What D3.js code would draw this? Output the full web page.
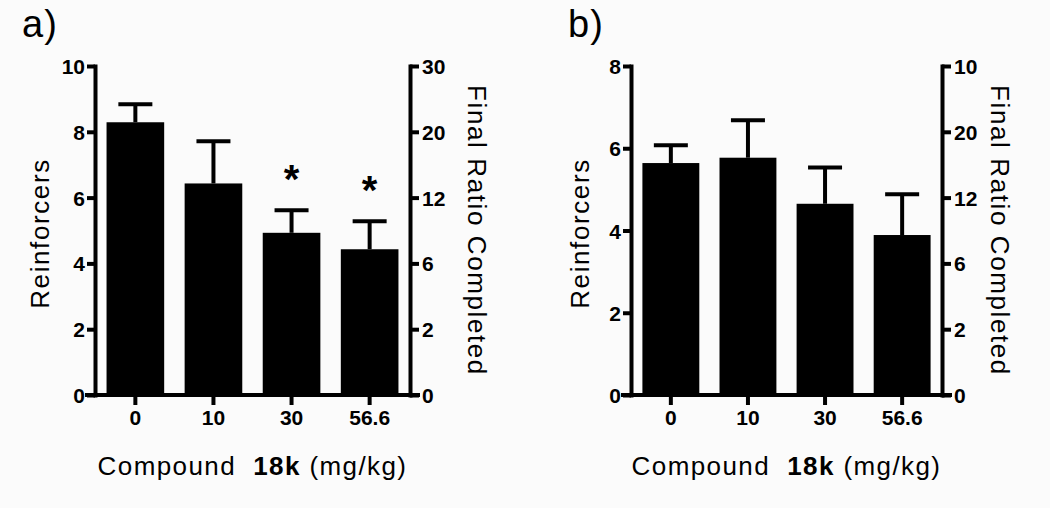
<!DOCTYPE html>
<html>
<head>
<meta charset="utf-8">
<script src="https://cdn.jsdelivr.net/npm/d3@7"></script>
<style>
  html, body { margin: 0; padding: 0; background: #fbfbfb; }
  svg { display: block; font-family: "Liberation Sans", Arial, sans-serif; }
</style>
</head>
<body>
<svg id="chart" width="1050" height="508"></svg>
<script>
// ---- data ----
const categories = ["0", "10", "30", "56.6"];

const reinforcersA = [8.29, 6.43, 4.93, 4.43];
const errorTopA    = [8.90, 7.77, 5.68, 5.34];
const significantA = [false, false, true, true];
const leftTicksA   = [0, 2, 4, 6, 8, 10];
const leftMaxA     = 10;
const rightLabelsA = ["0", "2", "6", "12", "20", "30"];

const reinforcersB = [5.64, 5.77, 4.65, 3.89];
const errorTopB    = [6.12, 6.73, 5.58, 4.93];
const significantB = [false, false, false, false];
const leftTicksB   = [0, 2, 4, 6, 8];
const leftMaxB     = 8;
const rightLabelsB = ["0", "2", "6", "12", "20", "10"];

const panelLabels = ["a)", "b)"];
const yTitle = "Reinforcers";
const y2Title = "Final Ratio Completed";

// ---- layout ----
const svg = d3.select("#chart");
const panels = [
  { label: panelLabels[0], labelX: 22, x0: 96, x1: 409, yLabX: 40, y2LabX: 477,
    values: reinforcersA, errs: errorTopA, sig: significantA,
    ticks: leftTicksA, max: leftMaxA, rLabels: rightLabelsA, capHalf: 17 },
  { label: panelLabels[1], labelX: 568, x0: 632, x1: 941, yLabX: 580, y2LabX: 1000,
    values: reinforcersB, errs: errorTopB, sig: significantB,
    ticks: leftTicksB, max: leftMaxB, rLabels: rightLabelsB, capHalf: 17 }
];
const yTop = 66, yBot = 395;

panels.forEach(p => {
  const g = svg.append("g");
  const x = d3.scaleBand().domain(categories).range([p.x0, p.x1])
    .paddingInner(0.262).paddingOuter(0.135);
  const y = d3.scaleLinear().domain([0, p.max]).range([yBot, yTop]);
  const yR = d3.scaleLinear().domain([0, p.rLabels.length - 1]).range([yBot, yTop]);
  const cx = i => x(categories[i]) + x.bandwidth() / 2;

  // bars
  g.selectAll("rect.bar").data(p.values).enter().append("rect")
    .attr("class", "bar")
    .attr("x", (d, i) => x(categories[i]))
    .attr("width", x.bandwidth())
    .attr("y", d => y(d))
    .attr("height", d => yBot - y(d))
    .attr("fill", "#000");

  // error bars
  const eb = g.selectAll("g.err").data(p.errs).enter().append("g").attr("class", "err");
  eb.append("line")
    .attr("x1", (d, i) => cx(i)).attr("x2", (d, i) => cx(i))
    .attr("y1", (d, i) => y(p.values[i]))
    .attr("y2", d => y(d) + 2)
    .attr("stroke", "#000").attr("stroke-width", 4);
  eb.append("line")
    .attr("x1", (d, i) => cx(i) - p.capHalf)
    .attr("x2", (d, i) => cx(i) + p.capHalf)
    .attr("y1", d => y(d) + 2)
    .attr("y2", d => y(d) + 2)
    .attr("stroke", "#000").attr("stroke-width", 4);

  // significance stars
  const starIdx = d3.range(p.errs.length).filter(i => p.sig[i]);
  g.selectAll("text.star").data(starIdx).enter().append("text").attr("class", "star")
    .attr("x", i => cx(i))
    .attr("y", i => y(p.errs[i]) - 15)
    .attr("text-anchor", "middle")
    .attr("font-size", 40).attr("font-weight", "bold").attr("fill", "#000")
    .text("*");

  // left axis
  const axL = g.append("g").attr("transform", `translate(${p.x0 - 1},0)`)
    .call(d3.axisLeft(y).tickValues(p.ticks).tickSize(8).tickSizeOuter(0).tickPadding(2)
      .tickFormat(d3.format("d")));
  // right axis
  const axR = g.append("g").attr("transform", `translate(${p.x1 + 1},0)`)
    .call(d3.axisRight(yR).tickValues(d3.range(p.rLabels.length)).tickSize(9).tickSizeOuter(0)
      .tickPadding(3).tickFormat(i => p.rLabels[i]));
  // bottom axis
  const axB = g.append("g").attr("transform", `translate(0,${yBot})`)
    .call(d3.axisBottom(x).tickSize(10).tickSizeOuter(0).tickPadding(5));
  axB.select(".domain").attr("d", `M${p.x0 - 9},0H${p.x1 + 9}`);

  [axL, axR, axB].forEach(ax => {
    ax.select(".domain").attr("stroke", "#000").attr("stroke-width", 4)
      .attr("stroke-linecap", "square");
    ax.selectAll(".tick line").attr("stroke", "#000").attr("stroke-width", 4);
    ax.selectAll(".tick text").attr("fill", "#000").attr("font-size", 21)
      .attr("font-weight", "bold").attr("font-family", "'Liberation Sans', Arial, sans-serif");
  });
  axL.selectAll(".tick text").attr("dy", "0.36em");
  axR.selectAll(".tick text").attr("dy", "0.36em");

  // titles
  const cy = (yTop + yBot) / 2;
  g.append("text")
    .attr("transform", `translate(${p.yLabX},${cy + 3}) rotate(-90)`)
    .attr("text-anchor", "middle").attr("dominant-baseline", "central")
    .attr("font-size", 26).attr("letter-spacing", 1.6).attr("fill", "#000").text(yTitle);
  g.append("text")
    .attr("transform", `translate(${p.y2LabX},${cy}) rotate(90)`)
    .attr("text-anchor", "middle").attr("dominant-baseline", "central")
    .attr("font-size", 26).attr("letter-spacing", 1.6).attr("fill", "#000").text(y2Title);

  const xt = g.append("text")
    .attr("x", (p.x0 + p.x1) / 2).attr("y", 475)
    .attr("text-anchor", "middle").attr("font-size", 26).attr("letter-spacing", 1.4)
    .attr("fill", "#000")
    .attr("xml:space", "preserve");
  xt.append("tspan").text("Compound  ");
  xt.append("tspan").attr("font-weight", "bold").text("18k");
  xt.append("tspan").text(" (mg/kg)");

  g.append("text").attr("x", p.labelX).attr("y", 37)
    .attr("font-size", 38).attr("letter-spacing", 1).attr("fill", "#000").text(p.label);
});
</script>
</body>
</html>
